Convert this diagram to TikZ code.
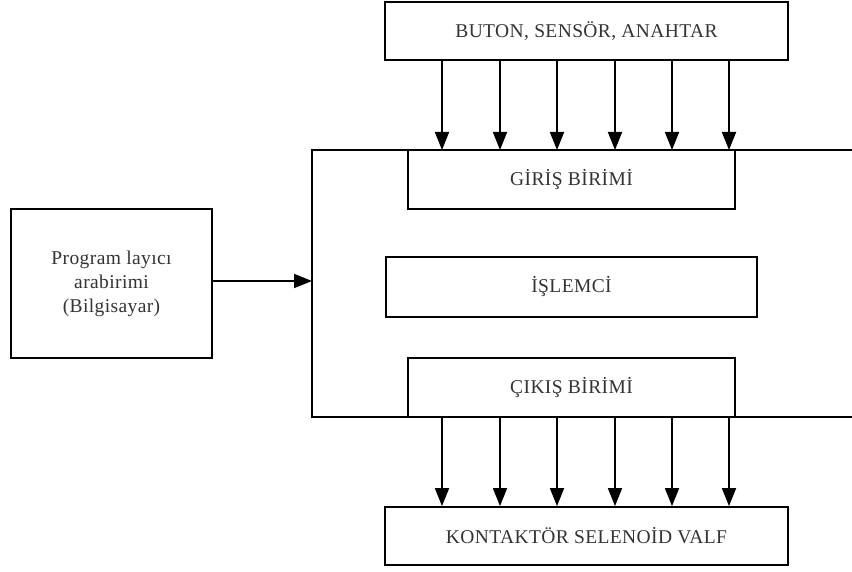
\documentclass[tikz,border=0pt]{standalone}
\usepackage{fontspec}
\setmainfont{Liberation Serif}[LetterSpace=2]
\usetikzlibrary{arrows.meta}
\begin{document}
\begin{tikzpicture}[x=1bp,y=-1bp,
  box/.style={draw=black, line width=1.8bp, rectangle, inner sep=0pt,
    text=black!80, font=\fontsize{19.5bp}{24bp}\selectfont, align=center},
  arr/.style={draw=black, line width=1.8bp, -{Triangle[length=18bp,width=14bp]}},
  wall/.style={draw=black, line width=1.8bp}]
\useasboundingbox (0,0) rectangle (852,572);
\fill[white] (0,0) rectangle (852,572);
% container
\coordinate (cTL) at (312,150);
\coordinate (cTR) at (852,150);
\coordinate (cBL) at (312,417);
\coordinate (cBR) at (852,417);
\coordinate (pin) at (312,281);
\draw[wall] (cTR) -- (cTL) -- (cBL) -- (cBR);
% boxes
\node[box, minimum width=403bp, minimum height=58bp] (top) at (586.5,31) {BUTON, SENSÖR, ANAHTAR};
\node[box, minimum width=327bp, minimum height=59bp] (giris) at (571.5,179.5) {GİRİŞ BİRİMİ};
\node[box, minimum width=371bp, minimum height=60bp] (islem) at (571.5,287) {İŞLEMCİ};
\node[box, minimum width=327bp, minimum height=59bp] (cikis) at (571.5,387.5) {ÇIKIŞ BİRİMİ};
\node[box, minimum width=403bp, minimum height=58bp] (bot) at (586.5,536) {KONTAKTÖR SELENOİD VALF};
\node[box, minimum width=201bp, minimum height=149bp] (prog) at (111.5,283.5) {Program layıcı\\arabirimi\\(Bilgisayar)};
% arrows
\foreach \x in {442,500,557,615,672,729} {
  \draw[arr] (top.south -| \x,0) -- (cTL -| \x,0);
  \draw[arr] (cBL -| \x,0) -- (bot.north -| \x,0);
}
\draw[arr] (prog.east |- pin) -- (pin);
\end{tikzpicture}
\end{document}
